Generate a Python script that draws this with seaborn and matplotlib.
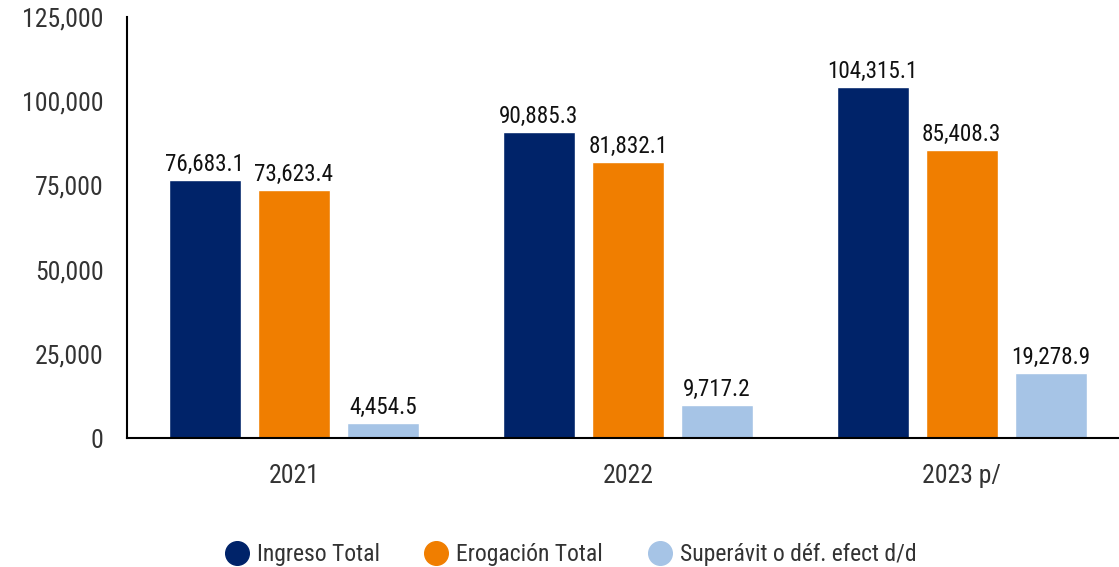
import pandas as pd
import matplotlib
matplotlib.use("Agg")
import matplotlib.pyplot as plt
from matplotlib import font_manager
from matplotlib.lines import Line2D
import seaborn as sns

# Data
years = ["2021", "2022", "2023 p/"]
series = ["Ingreso Total", "Erogación Total", "Superávit o déf. efect d/d"]
ingreso = [76683.1, 90885.3, 104315.1]
erogacion = [73623.4, 81832.1, 85408.3]
superavit = [4454.5, 9717.2, 19278.9]
colors = ["#002369", "#F07E00", "#A6C4E6"]

df = pd.DataFrame({
    "year": years * 3,
    "serie": [series[0]] * 3 + [series[1]] * 3 + [series[2]] * 3,
    "value": ingreso + erogacion + superavit,
})

# pick a condensed face if there is one
installed = {f.name for f in font_manager.fontManager.ttflist}
family = "Roboto"
for cand in ["Roboto Condensed", "Liberation Sans Narrow", "Roboto"]:
    if cand in installed:
        family = cand
        break

sns.set_style("white")
plt.rcParams["font.family"] = [family, "DejaVu Sans"]

fig = plt.figure(figsize=(11.19, 5.67), dpi=100)
ax = fig.add_axes([0.1135, 0.2275, 0.895, 0.7425])

sns.barplot(data=df, x="year", y="value", hue="serie", palette=colors,
            width=0.8, gap=0.19, saturation=1, ax=ax, legend=True)

for cont in ax.containers:
    ax.bar_label(cont, labels=[f"{v:,.1f}" for v in cont.datavalues],
                 padding=3, fontsize=16.7, color="#111111")

ax.set_ylim(0, 125000)
ax.set_xlim(-0.5, 2.5)
ax.set_yticks(range(0, 125001, 25000))
ax.yaxis.set_major_formatter(matplotlib.ticker.FuncFormatter(lambda v, p: f"{v:,.0f}"))
ax.set_xlabel("")
ax.set_ylabel("")

for s in ["top", "right"]:
    ax.spines[s].set_visible(False)
for s in ["left", "bottom"]:
    ax.spines[s].set_color("black")
    ax.spines[s].set_linewidth(1.5)

ax.tick_params(axis="both", direction="out", length=13, width=1.5,
               color="black", labelsize=18.5, labelcolor="#333333", pad=4)
ax.tick_params(axis="x", pad=6)

ax.legend_.remove()
circ = [Line2D([], [], marker="o", linestyle="", markersize=17,
               markerfacecolor=c, markeredgecolor=c) for c in colors]
fig.legend(circ, series, loc="lower center", bbox_to_anchor=(0.51, -0.036),
           ncol=3, frameon=False, fontsize=17, handlelength=1.0,
           handletextpad=0.35, columnspacing=1.9, labelcolor="#333333")

fig.savefig("out.png", dpi=100)
